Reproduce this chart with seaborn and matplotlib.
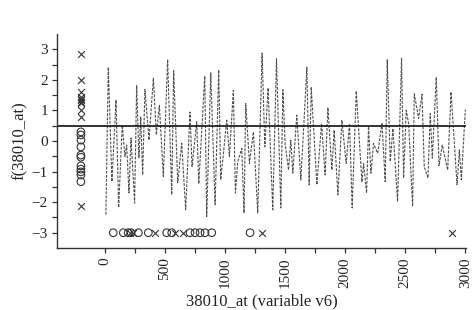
import numpy as np
import matplotlib
matplotlib.use("Agg")
import matplotlib.pyplot as plt
import pandas as pd
import seaborn as sns

# fitted function f(38010_at)
line_x = [8, 28, 58, 92, 114, 144, 167, 181, 200, 217, 247, 264, 283, 298, 314, 333, 367, 403, 428, 453,
          486, 522, 556, 572, 606, 639, 672, 708, 725, 764, 781, 831, 847, 881, 917, 947, 964, 1014, 1036,
          1069, 1086, 1106, 1139, 1158, 1172, 1203, 1236, 1272, 1308, 1331, 1358, 1397, 1428, 1464, 1481,
          1500, 1528, 1547, 1564, 1597, 1631, 1681, 1700, 1717, 1764, 1803, 1833, 1856, 1889, 1908, 1939,
          1972, 2008, 2036, 2058, 2092, 2139, 2153, 2178, 2194, 2214, 2236, 2270, 2306, 2333, 2350, 2375,
          2397, 2436, 2469, 2486, 2508, 2528, 2561, 2575, 2611, 2639, 2658, 2689, 2708, 2725, 2758, 2781,
          2808, 2853, 2881, 2931, 2950, 2967, 3000]
line_y = [-2.41, 2.42, -1.33, 1.34, -2.18, 0.52, -0.51, -0.13, -1.70, 0.10, -2.03, 1.82, -0.55, 0.79, -1.11,
          1.69, 0.03, 2.06, 0.20, 1.17, -1.16, 2.67, -1.76, 2.31, -1.37, -0.07, -2.25, 0.95, -0.84, 0.63,
          -1.40, 2.13, -2.47, 2.23, -2.08, 2.33, -1.27, 0.68, -0.51, 1.66, -1.70, -0.67, -0.24, -2.35, 1.23,
          -0.73, 0.30, -2.35, 2.88, -0.19, 1.74, -2.25, 2.69, -2.19, 1.68, -0.08, -0.95, 0.03, -1.05, 0.85,
          -1.27, 2.42, -1.43, 1.77, -1.43, 0.57, -1.11, 1.10, -0.95, 0.36, -1.76, 0.68, -0.73, 0.57, -2.19,
          1.64, -1.33, -0.73, -1.70, 0.47, -1.05, -0.08, -0.40, 0.57, -1.33, 2.66, -0.67, 0.41, -1.98, 2.71,
          -1.21, 1.01, 0.57, -2.14, 1.55, 0.74, 1.53, -0.84, -1.21, 0.90, -0.56, 2.09, -0.81, -0.13, -0.95,
          1.61, -1.43, -0.29, -1.27, 1.03]
threshold = 0.5

# f values of observations, shown at the left edge
rug_pos = -200
left_cross_y = [2.86, 2.01, 1.61, 1.44, 1.38, 1.34, 1.28, 1.23, 1.01, 0.79, -2.12]
left_circle_y = [0.30, 0.20, 0.03, -0.19, -0.46, -0.53, -0.81, -0.92, -1.01, -1.11, -1.33]

# observed gene values, shown along the bottom
rug_level = -3
bottom_circle_x = [69, 153, 194, 217, 278, 361, 514, 556, 708, 750, 792, 833, 889, 1208]
bottom_cross_x = [208, 233, 417, 583, 653, 1306, 2889]

sns.set_style("ticks")
plt.rcParams['font.family'] = ['Liberation Serif', 'DejaVu Serif']

fig = plt.figure(figsize=(4.74, 3.10), dpi=100)
ax = fig.add_axes([0.120, 0.200, 0.863, 0.690])

df_line = pd.DataFrame({'x': line_x, 'y': line_y})
sns.lineplot(data=df_line, x='x', y='y', ax=ax, color='#505050', linewidth=0.8,
             linestyle=(0, (2.5, 1.2)), sort=False)
ax.axhline(threshold, color='#222222', linewidth=1.3)

df_circ = pd.DataFrame({'x': [rug_pos] * len(left_circle_y) + bottom_circle_x,
                        'y': left_circle_y + [rug_level] * len(bottom_circle_x)})
df_cross = pd.DataFrame({'x': [rug_pos] * len(left_cross_y) + bottom_cross_x,
                         'y': left_cross_y + [rug_level] * len(bottom_cross_x)})
sns.scatterplot(data=df_circ, x='x', y='y', ax=ax, marker='o', s=30,
                facecolor='none', edgecolor='#333333', linewidth=0.8)
sns.scatterplot(data=df_cross, x='x', y='y', ax=ax, marker='x', s=24,
                color='#333333', linewidth=0.8)

ax.set_xlim(-400, 3005)
ax.set_ylim(-3.5, 3.5)
sns.despine(ax=ax)
for s in ['left', 'bottom']:
    ax.spines[s].set_color('#333333')
    ax.spines[s].set_linewidth(1.0)

ax.set_xticks(np.arange(0, 3001, 500))
ax.set_xticks(np.arange(0, 3001, 250), minor=True)
ax.set_yticks(np.arange(-3, 4, 1))
ax.set_yticks(np.arange(-3, 3.01, 0.5), minor=True)
ax.set_xticklabels([str(v) for v in range(0, 3001, 500)], rotation=90)
ax.tick_params(which='both', direction='out', length=3.5, width=0.9, color='#333333',
               labelsize=11, pad=3)
ax.set_xlabel('38010_at (variable v6)', fontsize=12)
ax.set_ylabel('f(38010_at)', fontsize=12, labelpad=3)

fig.savefig('out.png', dpi=100)
